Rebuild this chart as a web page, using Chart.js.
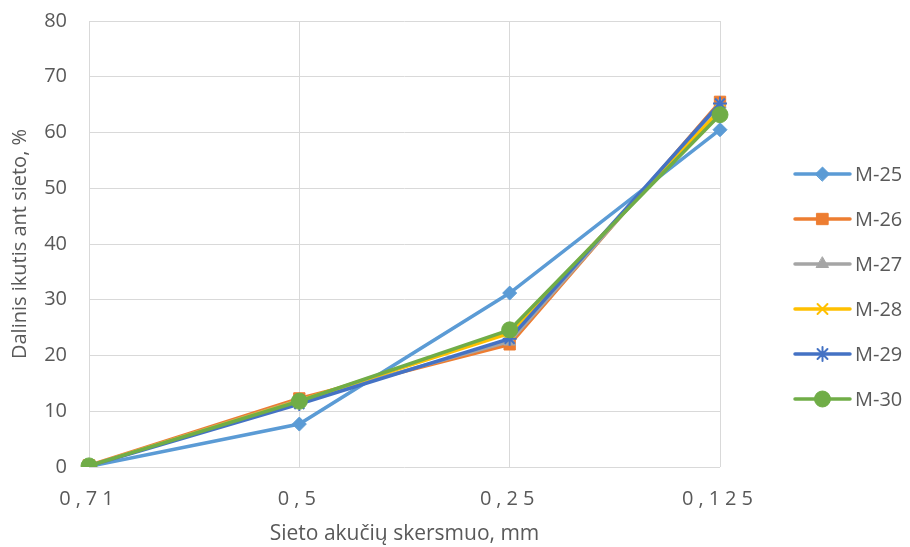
<!DOCTYPE html>
<html>
<head>
<meta charset="utf-8">
<script src="https://cdn.jsdelivr.net/npm/chart.js@4"></script>
<style>
  html, body { margin: 0; padding: 0; background: #fff; }
  #wrap { width: 910px; height: 547px; }
</style>
</head>
<body>
<div id="wrap"><canvas id="chartCanvas" width="910" height="547"></canvas></div>
<script>
// Data
var categories = ["0,71", "0,5", "0,25", "0,125"];
var seriesNames = ["M-25", "M-26", "M-27", "M-28", "M-29", "M-30"];
var m25 = [0.1, 7.7, 31.2, 60.5];
var m26 = [0.3, 12.3, 22.0, 65.5];
var m27 = [0.2, 12.0, 22.5, 65.0];
var m28 = [0.2, 11.9, 24.0, 64.0];
var m29 = [0.2, 11.3, 23.0, 65.2];
var m30 = [0.2, 11.8, 24.6, 63.2];
var yTicks = [0, 10, 20, 30, 40, 50, 60, 70, 80];

var seriesValues = [m25, m26, m27, m28, m29, m30];
var colors = ["#5B9BD5", "#ED7D31", "#A5A5A5", "#FFC000", "#4472C4", "#70AD47"];
var markers = ["rectRot", "rect", "triangle", "crossRot", "star", "circle"];
var markerSize = [7, 8, 7, 7, 7, 8];

var fontFamily = "'Open Sans', 'Noto Sans', sans-serif";
var textColor = "#595959";

var datasets = [];
for (var i = 0; i < seriesNames.length; i++) {
  datasets.push({
    label: seriesNames[i],
    data: seriesValues[i],
    borderColor: colors[i],
    backgroundColor: colors[i],
    borderWidth: 3.5,
    pointStyle: markers[i],
    pointRadius: markerSize[i],
    pointHoverRadius: markerSize[i],
    pointBorderWidth: (markers[i] == "crossRot" || markers[i] == "star") ? 2 : 1,
    pointBorderColor: colors[i],
    tension: 0,
    order: seriesNames.length - i
  });
}

// Legend drawn in the right margin: line + marker + label
var sideLegend = {
  id: "sideLegend",
  afterDraw: function(chart) {
    var ctx = chart.ctx;
    var x0 = 795, x1 = 850, top = 174, step = 45;
    ctx.save();
    for (var i = 0; i < datasets.length; i++) {
      var y = top + i * step;
      ctx.strokeStyle = colors[i];
      ctx.lineWidth = 3.5;
      ctx.lineCap = "round";
      ctx.beginPath();
      ctx.moveTo(x0, y);
      ctx.lineTo(x1, y);
      ctx.stroke();
      ctx.fillStyle = colors[i];
      ctx.lineWidth = datasets[i].pointBorderWidth;
      Chart.helpers.drawPoint(ctx, {
        pointStyle: markers[i],
        radius: markerSize[i],
        rotation: 0,
        borderWidth: datasets[i].pointBorderWidth
      }, (x0 + x1) / 2, y);
      ctx.fillStyle = textColor;
      ctx.font = "20px " + fontFamily;
      ctx.textAlign = "left";
      ctx.textBaseline = "middle";
      ctx.fillText(seriesNames[i], 855, y + 1);
    }
    ctx.restore();
  }
};

// Spread out the x tick label letters like the original
var spacedXLabels = {
  id: "spacedXLabels",
  afterLayout: function(chart) {
    var s = chart.scales.x;
    if (s && !s._spaced) {
      var orig = s.drawLabels.bind(s);
      s.drawLabels = function(area) {
        chart.ctx.save();
        chart.ctx.letterSpacing = "5px";
        orig(area);
        chart.ctx.restore();
      };
      s._spaced = true;
    }
  }
};

var chart = new Chart(document.getElementById("chartCanvas"), {
  type: "line",
  data: { labels: categories, datasets: datasets },
  plugins: [sideLegend, spacedXLabels],
  options: {
    responsive: false,
    animation: false,
    layout: { padding: { top: 21, right: 190, left: 0, bottom: 0 } },
    plugins: {
      legend: { display: false },
      tooltip: { enabled: false }
    },
    scales: {
      x: {
        offset: false,
        grid: { color: "#D9D9D9", lineWidth: 1, drawTicks: false },
        border: { display: false },
        ticks: {
          color: textColor,
          font: { family: fontFamily, size: 20 },
          padding: 20,
          maxRotation: 0
        },
        title: {
          display: true,
          text: "Sieto akučių skersmuo, mm",
          color: textColor,
          font: { family: fontFamily, size: 21 },
          padding: { top: 6, bottom: 0 }
        },
        afterFit: function(scale) { scale.height = 80; }
      },
      y: {
        min: 0,
        max: 80,
        afterBuildTicks: function(scale) {
          scale.ticks = yTicks.map(function(v) { return { value: v }; });
        },
        grid: { color: "#D9D9D9", lineWidth: 1, drawTicks: false },
        border: { display: false },
        ticks: {
          color: textColor,
          font: { family: fontFamily, size: 20 },
          padding: 22
        },
        title: {
          display: true,
          text: "Dalinis ikutis ant sieto, %",
          color: textColor,
          font: { family: fontFamily, size: 20 },
          padding: { top: 8, bottom: 2 }
        },
        afterFit: function(scale) {
          scale.width = 89;
          scale.paddingTop = 12;
          scale.paddingBottom = 12;
        }
      }
    }
  }
});
</script>
</body>
</html>
